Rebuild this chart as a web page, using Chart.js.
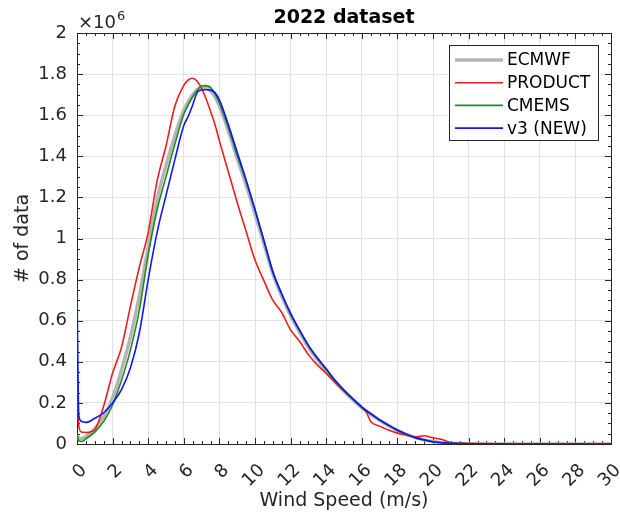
<!DOCTYPE html>
<html>
<head>
<meta charset="utf-8">
<title>2022 dataset</title>
<script src="https://cdn.jsdelivr.net/npm/chart.js@4.4.1/dist/chart.umd.min.js"></script>
<style>
  html, body { margin: 0; padding: 0; background: #fff; }
</style>
</head>
<body>
<canvas id="windhist" width="620" height="513"></canvas>
<script>
// wind speed bins (m/s)
const windSpeed = [0, 0.1, 0.25, 0.5, 1, 1.5, 2, 2.5, 3, 3.5, 4, 4.5, 5, 5.5, 6, 6.25, 6.5, 6.75, 7, 7.25, 7.5, 7.75, 8,
    8.5, 9, 9.5, 10, 10.5, 11, 11.5, 12, 12.5, 13, 13.5, 14, 14.5, 15, 15.5, 16, 16.25, 16.5,
    17, 17.5, 18, 18.5, 19, 19.5, 20, 20.5, 21, 21.5, 22, 24, 26, 28, 30];

// counts, in units of 1e6
const ecmwf = [0.04, 0.03, 0.025, 0.035, 0.075, 0.135, 0.225, 0.36, 0.52, 0.72, 0.96, 1.19, 1.355, 1.50, 1.625, 1.665, 1.70, 1.725, 1.735, 1.735, 1.72, 1.69, 1.645,
    1.525, 1.39, 1.26, 1.12, 0.975, 0.83, 0.72, 0.625, 0.545, 0.472, 0.412, 0.357, 0.303, 0.257, 0.215, 0.177, 0.16, 0.145,
    0.115, 0.09, 0.066, 0.047, 0.032, 0.02, 0.012, 0.006, 0.003, 0.002, 0.001, 0, 0, 0, 0];
const product = [0.33, 0.09, 0.058, 0.056, 0.07, 0.185, 0.345, 0.47, 0.67, 0.86, 1.03, 1.28, 1.45, 1.645, 1.745, 1.772, 1.78, 1.765, 1.73, 1.68, 1.62, 1.555, 1.475,
    1.325, 1.175, 1.035, 0.895, 0.795, 0.70, 0.64, 0.555, 0.50, 0.435, 0.385, 0.344, 0.30, 0.258, 0.218, 0.178, 0.155, 0.11,
    0.087, 0.068, 0.053, 0.043, 0.034, 0.04, 0.03, 0.022, 0.006, 0.003, 0.002, 0.001, 0, 0, 0];
const cmems = [0.05, 0.015, 0.012, 0.025, 0.058, 0.11, 0.19, 0.31, 0.457, 0.65, 0.92, 1.14, 1.30, 1.46, 1.605, 1.65, 1.69, 1.72, 1.742, 1.744, 1.735, 1.705, 1.66,
    1.54, 1.405, 1.278, 1.14, 0.99, 0.84, 0.73, 0.632, 0.552, 0.477, 0.417, 0.362, 0.307, 0.259, 0.217, 0.178, 0.161, 0.146,
    0.116, 0.09, 0.066, 0.047, 0.031, 0.019, 0.011, 0.006, 0.003, 0.002, 0.001, 0, 0, 0, 0];
const v3new = [0.75, 0.14, 0.11, 0.105, 0.125, 0.152, 0.20, 0.265, 0.37, 0.54, 0.80, 1.03, 1.21, 1.385, 1.55, 1.595, 1.65, 1.71, 1.723, 1.724, 1.722, 1.71, 1.675,
    1.555, 1.42, 1.285, 1.14, 0.99, 0.837, 0.73, 0.636, 0.555, 0.48, 0.42, 0.366, 0.31, 0.262, 0.22, 0.18, 0.163, 0.148,
    0.118, 0.092, 0.068, 0.048, 0.031, 0.02, 0.011, 0.006, 0.003, 0.002, 0.001, 0, 0, 0, 0];

const seriesNames = ['ECMWF', 'PRODUCT', 'CMEMS', 'v3 (NEW)'];
const seriesData = [ecmwf, product, cmems, v3new];
const seriesColors = ['#b4b4b4', '#f01c1c', '#1c8c1c', '#1414ff'];
const seriesWidths = [3.5, 1.6, 1.6, 1.6];

const FONT = "'DejaVu Sans', sans-serif";
const AXIS_COLOR = '#262626';

// MATLAB style axes box with inward major/minor ticks, title, exponent and legend
const matlabAxes = {
    id: 'matlabAxes',
    beforeDatasetsDraw(chart) {
        const { ctx, chartArea: a, scales: { x, y } } = chart;
        ctx.save();
        ctx.strokeStyle = AXIS_COLOR;
        ctx.lineWidth = 1;
        ctx.beginPath();
        for (let i = 0; i <= 60; i++) {
            const px = Math.round(x.getPixelForValue(i * 0.5)) + 0.5;
            const len = i % 4 === 0 ? 6 : 3;
            ctx.moveTo(px, a.bottom); ctx.lineTo(px, a.bottom - len);
            ctx.moveTo(px, a.top); ctx.lineTo(px, a.top + len);
        }
        for (let i = 0; i <= 40; i++) {
            const py = Math.round(y.getPixelForValue(i * 0.05)) + 0.5;
            const len = i % 4 === 0 ? 6 : 3;
            ctx.moveTo(a.left, py); ctx.lineTo(a.left + len, py);
            ctx.moveTo(a.right, py); ctx.lineTo(a.right - len, py);
        }
        ctx.stroke();
        ctx.strokeRect(Math.round(a.left) + 0.5, Math.round(a.top) + 0.5,
            Math.round(a.right - a.left), Math.round(a.bottom - a.top));
        ctx.restore();
    },
    afterDraw(chart) {
        const { ctx, chartArea: a } = chart;
        ctx.save();
        // title
        ctx.fillStyle = '#000';
        ctx.font = 'bold 19px ' + FONT;
        ctx.textAlign = 'center';
        ctx.textBaseline = 'middle';
        ctx.fillText('2022 dataset', (a.left + a.right) / 2, 18);

        // exponent label
        ctx.fillStyle = AXIS_COLOR;
        ctx.textAlign = 'left';
        ctx.textBaseline = 'alphabetic';
        ctx.font = '18px ' + FONT;
        ctx.fillText('\u00d710', a.left + 1, 28);
        const w = ctx.measureText('\u00d710').width;
        ctx.font = '13px ' + FONT;
        ctx.fillText('6', a.left + 1 + w + 1, 20);

        // legend
        const lx = 449.5, ly = 45.5, lw = 149, lh = 95;
        ctx.fillStyle = '#fff';
        ctx.fillRect(lx, ly, lw, lh);
        ctx.strokeStyle = AXIS_COLOR;
        ctx.lineWidth = 1;
        ctx.strokeRect(lx, ly, lw, lh);
        ctx.font = '17px ' + FONT;
        ctx.textBaseline = 'middle';
        seriesNames.forEach((name, i) => {
            const yy = 60 + i * 22.7;
            ctx.strokeStyle = seriesColors[i];
            ctx.lineWidth = seriesWidths[i];
            ctx.beginPath();
            ctx.moveTo(455, yy);
            ctx.lineTo(503, yy);
            ctx.stroke();
            ctx.fillStyle = '#000';
            ctx.fillText(name, 507, yy + 1);
        });
        ctx.restore();
    }
};

const ctx = document.getElementById('windhist').getContext('2d');
const windChart = new Chart(ctx, {
    type: 'line',
    data: {
        datasets: seriesNames.map((name, i) => ({
            label: name,
            data: windSpeed.map((ws, j) => ({ x: ws, y: seriesData[i][j] })),
            borderColor: seriesColors[i],
            borderWidth: seriesWidths[i],
            pointRadius: 0,
            cubicInterpolationMode: 'monotone',
            fill: false,
            order: seriesNames.length - i
        }))
    },
    options: {
        responsive: false,
        animation: false,
        layout: {
            padding: { top: 33, right: 9, left: 0, bottom: 0 }
        },
        plugins: {
            legend: { display: false },
            title: { display: false },
            tooltip: { enabled: false }
        },
        scales: {
            x: {
                type: 'linear',
                min: 0,
                max: 30,
                ticks: {
                    stepSize: 2,
                    autoSkip: false,
                    minRotation: 45,
                    maxRotation: 45,
                    padding: 16,
                    labelOffset: 7,
                    color: AXIS_COLOR,
                    font: { family: FONT, size: 18 }
                },
                grid: { color: '#e2e2e2', drawTicks: false },
                border: { display: false },
                title: {
                    display: true,
                    text: 'Wind Speed (m/s)',
                    color: AXIS_COLOR,
                    font: { family: FONT, size: 19 },
                    padding: { top: 0, bottom: 1 }
                },
                afterFit(scale) {
                    scale.height = 69;
                    scale.paddingLeft = 0;
                    scale.paddingRight = 0;
                }
            },
            y: {
                min: 0,
                max: 2,
                ticks: {
                    stepSize: 0.2,
                    padding: 10,
                    color: AXIS_COLOR,
                    font: { family: FONT, size: 18 },
                    callback: (v) => String(+v.toFixed(1))
                },
                grid: { color: '#e2e2e2', drawTicks: false },
                border: { display: false },
                title: {
                    display: true,
                    text: '# of data',
                    color: AXIS_COLOR,
                    font: { family: FONT, size: 19 },
                    padding: { top: 12, bottom: 0 }
                },
                afterFit(scale) {
                    scale.width = 77;
                    scale.paddingTop = 0;
                    scale.paddingBottom = 0;
                }
            }
        }
    },
    plugins: [matlabAxes]
});
</script>
</body>
</html>
